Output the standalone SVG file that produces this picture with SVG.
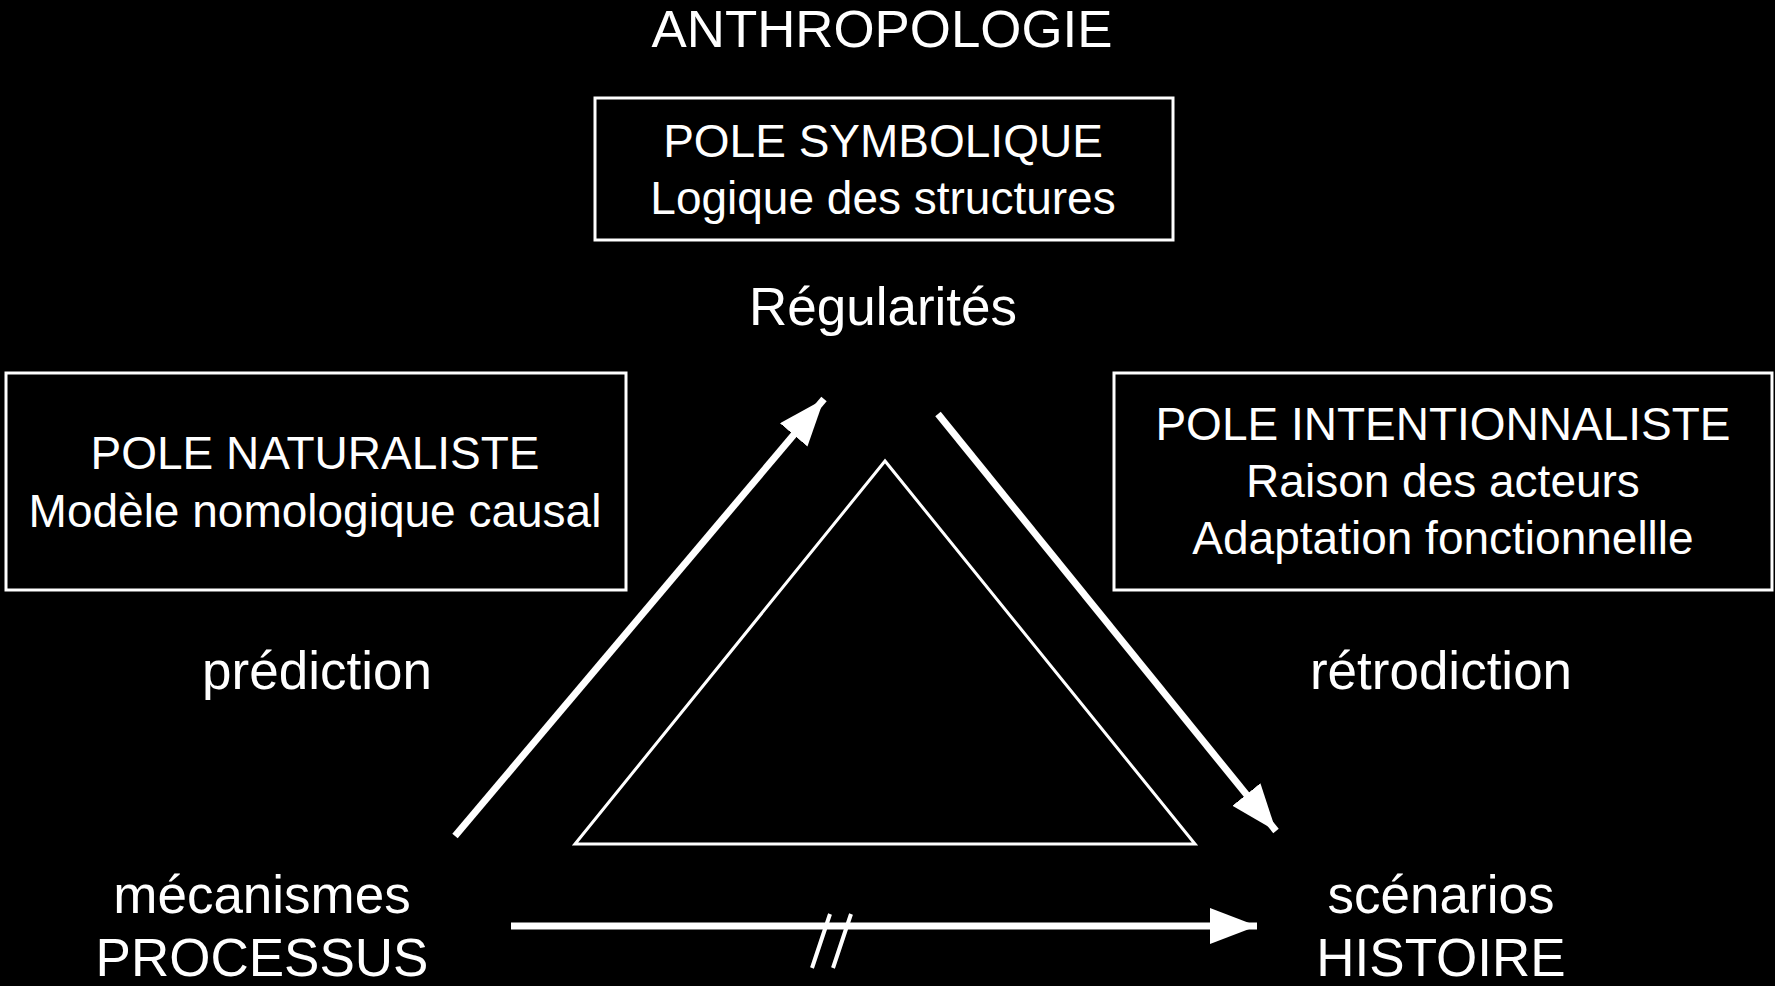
<svg xmlns="http://www.w3.org/2000/svg" width="1775" height="986" viewBox="0 0 1775 986">
  <defs>
    <style>
      text { font-family: "Liberation Sans", Arial, Helvetica, sans-serif; fill: #ffffff; text-anchor: middle; }
      .big { font-size: 53px; }
      .title { font-size: 51px; }
      .box { font-size: 46px; }
      .frame { fill: #000000; stroke: #ffffff; stroke-width: 3; }
      .arrow { stroke: #ffffff; stroke-width: 7; fill: none; }
      .thin { stroke: #ffffff; stroke-width: 3; fill: none; }
      .tick { stroke: #ffffff; stroke-width: 4; }
    </style>
    <marker id="head" markerUnits="userSpaceOnUse" markerWidth="50" markerHeight="40" refX="47" refY="18" orient="auto">
      <path d="M0,0 L47,18 L0,36 Z" fill="#ffffff"/>
    </marker>
  </defs>
  <rect x="0" y="0" width="1775" height="986" fill="#000000"/>

  <g id="title">
    <text class="title" x="882" y="47" textLength="461" lengthAdjust="spacingAndGlyphs">ANTHROPOLOGIE</text>
  </g>

  <g id="pole-symbolique">
    <rect class="frame" x="595" y="98" width="578" height="142"/>
    <text class="box" x="883" y="157">POLE SYMBOLIQUE</text>
    <text class="box" x="883" y="214">Logique des structures</text>
  </g>

  <g id="regularites">
    <text class="big" x="883" y="325">Régularités</text>
  </g>

  <g id="pole-naturaliste">
    <rect class="frame" x="6" y="373" width="620" height="217"/>
    <text class="box" x="315" y="469">POLE NATURALISTE</text>
    <text class="box" x="315" y="527">Modèle nomologique causal</text>
  </g>

  <g id="pole-intentionnaliste">
    <rect class="frame" x="1114" y="373" width="658" height="217"/>
    <text class="box" x="1443" y="440">POLE INTENTIONNALISTE</text>
    <text class="box" x="1443" y="497">Raison des acteurs</text>
    <text class="box" x="1443" y="554">Adaptation fonctionnellle</text>
  </g>

  <g id="prediction">
    <text class="big" x="317" y="689">prédiction</text>
  </g>

  <g id="retrodiction">
    <text class="big" x="1441" y="689">rétrodiction</text>
  </g>

  <g id="triangle">
    <polygon class="thin" points="885,461 575,844 1195,844"/>
  </g>

  <g id="processus">
    <text class="big" x="262" y="913">mécanismes</text>
    <text class="big" x="262" y="976">PROCESSUS</text>
  </g>

  <g id="histoire">
    <text class="big" x="1441" y="913">scénarios</text>
    <text class="big" x="1441" y="976">HISTOIRE</text>
  </g>

  <g id="connectors">
    <line class="arrow" x1="455" y1="836" x2="824" y2="399" marker-end="url(#head)"/>
    <line class="arrow" x1="938" y1="414" x2="1276" y2="831" marker-end="url(#head)"/>
    <line class="arrow" x1="511" y1="926" x2="1257" y2="926" marker-end="url(#head)"/>
    <line class="tick" x1="830" y1="914" x2="812" y2="968"/>
    <line class="tick" x1="851" y1="914" x2="833" y2="968"/>
  </g>
</svg>
